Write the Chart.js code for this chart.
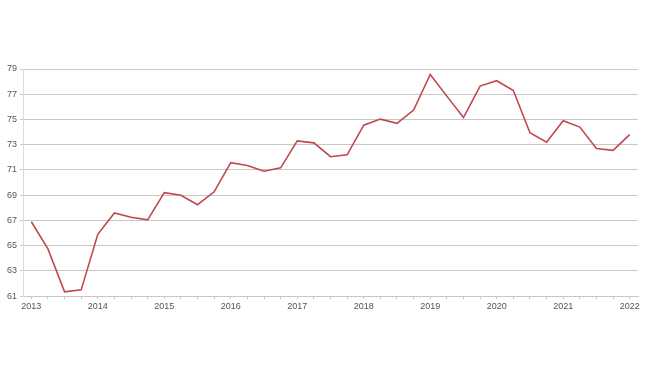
<!DOCTYPE html>
<html>
<head>
<meta charset="utf-8">
<script src="https://cdn.jsdelivr.net/npm/chart.js@4/dist/chart.umd.min.js"></script>
<style>
  html, body { margin: 0; padding: 0; background: #fff; }
  #chart { display: block; }
</style>
</head>
<body>
<canvas id="chart" width="650" height="366"></canvas>
<script>
// quarterly values, 2013 Q1 .. 2022 Q1
var quarters = [
  "2013 Q1","2013 Q2","2013 Q3","2013 Q4",
  "2014 Q1","2014 Q2","2014 Q3","2014 Q4",
  "2015 Q1","2015 Q2","2015 Q3","2015 Q4",
  "2016 Q1","2016 Q2","2016 Q3","2016 Q4",
  "2017 Q1","2017 Q2","2017 Q3","2017 Q4",
  "2018 Q1","2018 Q2","2018 Q3","2018 Q4",
  "2019 Q1","2019 Q2","2019 Q3","2019 Q4",
  "2020 Q1","2020 Q2","2020 Q3","2020 Q4",
  "2021 Q1","2021 Q2","2021 Q3","2021 Q4",
  "2022 Q1"
];
var values = [
  66.9, 64.75, 61.35, 61.5,
  65.9, 67.6, 67.26, 67.05,
  69.2, 69.0, 68.25, 69.27,
  71.58, 71.35, 70.9, 71.17,
  73.3, 73.15, 72.05, 72.2,
  74.55, 75.03, 74.7, 75.75,
  78.57, 76.85, 75.15, 77.65,
  78.07, 77.3, 73.95, 73.2,
  74.9, 74.4, 72.7, 72.55,
  73.8
];
var yTicks = [61, 63, 65, 67, 69, 71, 73, 75, 77, 79];

var ctx = document.getElementById("chart");
var chart = new Chart(ctx, {
  type: "line",
  data: {
    labels: quarters,
    datasets: [{
      data: values,
      borderColor: "#c2474c",
      borderWidth: 1.6,
      pointRadius: 0,
      fill: false,
      tension: 0
    }]
  },
  options: {
    responsive: false,
    animation: false,
    layout: { padding: { top: 69, left: 4, right: 12, bottom: 52 } },
    plugins: { legend: { display: false }, tooltip: { enabled: false } },
    scales: {
      x: {
        type: "category",
        offset: true,
        grid: {
          offset: false,
          drawOnChartArea: false,
          drawTicks: true,
          tickLength: 3,
          color: "#c8c8c8"
        },
        border: { display: true, color: "#c8c8c8" },
        ticks: {
          autoSkip: false,
          maxRotation: 0,
          padding: 2,
          color: "#555",
          font: { family: "Liberation Sans, Arial, sans-serif", size: 9 },
          callback: function(v, i) {
            var q = quarters[i];
            return q.slice(-2) === "Q1" ? q.slice(0, 4) : "";
          }
        }
      },
      y: {
        min: 61,
        max: 79,
        afterBuildTicks: function(axis) {
          axis.ticks = yTicks.map(function(v) { return { value: v }; });
        },
        grid: {
          color: "#c8c8c8",
          lineWidth: 1,
          tickLength: 3
        },
        border: { display: true, color: "#dcdcdc" },
        ticks: {
          padding: 3,
          color: "#555",
          font: { family: "Liberation Sans, Arial, sans-serif", size: 9 }
        }
      }
    }
  }
});
</script>
</body>
</html>
